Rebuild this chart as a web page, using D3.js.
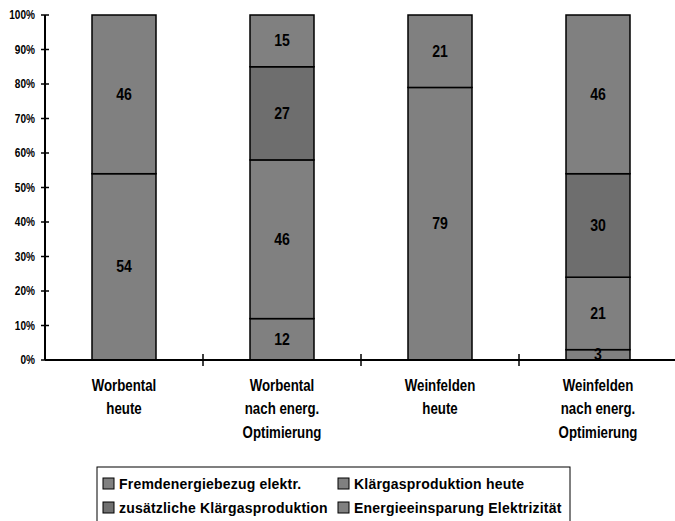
<!DOCTYPE html>
<html><head><meta charset="utf-8">
<script src="https://cdn.jsdelivr.net/npm/d3@7"></script>
<style>
body{margin:0;background:#fff;}
svg{display:block;}
text{font-family:"Liberation Sans",Arial,sans-serif;font-weight:bold;fill:#000;}
</style></head><body>
<svg id="c" width="675" height="521"></svg>
<script>
const categories = [
  ["Worbental","heute"],
  ["Worbental","nach energ.","Optimierung"],
  ["Weinfelden","heute"],
  ["Weinfelden","nach energ.","Optimierung"]
];
const seriesNames = ["Fremdenergiebezug elektr.","Klärgasproduktion heute","zusätzliche Klärgasproduktion","Energieeinsparung Elektrizität"];
const fremdenergie = [54, 12, 79, 3];
const klaergasHeute = [46, 46, 21, 21];
const zusaetzlich = [0, 27, 0, 30];
const einsparung = [0, 15, 0, 46];
const yTicks = [0,10,20,30,40,50,60,70,80,90,100];
const colors = ["#808080","#808080","#6e6e6e","#808080"];

const svg = d3.select("#c");
const mLeft = 45, mRight = 677, mTop = 15, mBottom = 360;
const x = d3.scaleBand().domain(d3.range(categories.length)).range([mLeft, mRight]).paddingInner(0).paddingOuter(0);
const y = d3.scaleLinear().domain([0,100]).range([mBottom, mTop]);

function label(px, py, txt, size, sx, anchor){
  return svg.append("g").attr("transform",`translate(${px},${py}) scale(${sx},1)`)
    .append("text").attr("text-anchor",anchor).attr("dy","0.35em").attr("font-size",size).text(txt);
}

const rows = categories.map((c,i)=>({i, s0:fremdenergie[i], s1:klaergasHeute[i], s2:zusaetzlich[i], s3:einsparung[i]}));
const stack = d3.stack().keys(["s0","s1","s2","s3"])(rows);
const barW = 64;

stack.forEach((layer, k)=>{
  layer.forEach(d=>{
    const v = d[1]-d[0];
    if (v<=0) return;
    const cx = x(d.data.i) + x.bandwidth()/2;
    svg.append("rect")
      .attr("x", cx - barW/2).attr("width", barW)
      .attr("y", y(d[1])).attr("height", y(d[0])-y(d[1]))
      .attr("fill", colors[k]).attr("stroke","#000").attr("stroke-width",1.5);
  });
});
stack.forEach((layer, k)=>{
  layer.forEach(d=>{
    const v = d[1]-d[0];
    if (v<=0) return;
    const cx = x(d.data.i) + x.bandwidth()/2;
    const cy = (y(d[0])+y(d[1]))/2;
    label(cx, cy, v, 16, 0.88, "middle");
  });
});

// y axis
const ySx = 0.84;
const yAxis = d3.axisLeft(y).tickValues(yTicks).tickFormat(d=>d+"%").tickSize(0).tickPadding(0);
const ga = svg.append("g").attr("transform",`translate(${mLeft},0)`).call(yAxis);
ga.select(".domain").remove();
ga.attr("font-family",null).attr("font-size",null);
ga.selectAll(".tick text").attr("font-size",12).attr("x",-10/ySx).attr("transform",`scale(${ySx},1)`).attr("fill","#000");
yTicks.forEach(t=>{
  svg.append("line").attr("x1",mLeft-4).attr("x2",mLeft+4).attr("y1",y(t)).attr("y2",y(t)).attr("stroke","#000").attr("stroke-width",1.5);
});
svg.append("line").attr("x1",mLeft).attr("x2",mLeft).attr("y1",mTop).attr("y2",mBottom).attr("stroke","#000").attr("stroke-width",2);

// x axis
svg.append("line").attr("x1",mLeft).attr("x2",mRight).attr("y1",mBottom).attr("y2",mBottom).attr("stroke","#000").attr("stroke-width",2);
d3.range(1,categories.length).forEach(i=>{
  svg.append("line").attr("x1",x(i)).attr("x2",x(i)).attr("y1",mBottom-6).attr("y2",mBottom+6).attr("stroke","#000").attr("stroke-width",1.5);
});
categories.forEach((lines,i)=>{
  lines.forEach((l,j)=>label(x(i)+x.bandwidth()/2, mBottom+25+j*23.5, l, 16, 0.83, "middle"));
});

// legend
svg.append("rect").attr("x",97).attr("y",467).attr("width",473).attr("height",70).attr("fill","none").attr("stroke","#000").attr("stroke-width",1);
const legPos = [[103,484],[338,484],[103,508],[338,508]];
seriesNames.forEach((n,k)=>{
  const [lx,ly] = legPos[k];
  svg.append("rect").attr("x",lx).attr("y",ly-6).attr("width",11).attr("height",11).attr("fill",colors[k]==="#6e6e6e"?"#707070":"#808080").attr("stroke","#000").attr("stroke-width",1);
  label(lx+16, ly, n, 14, 1.0, "start").attr("letter-spacing",0.2);
});
</script>
</body></html>
